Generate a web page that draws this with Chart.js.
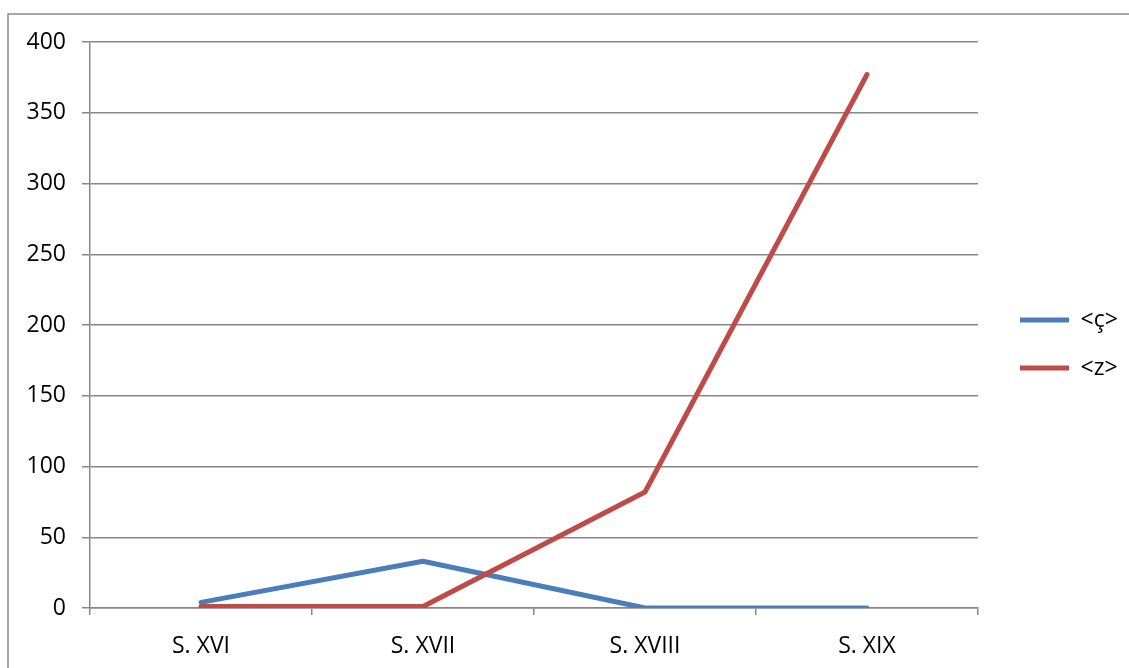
<!DOCTYPE html>
<html>
<head>
<meta charset="utf-8">
<script src="https://cdn.jsdelivr.net/npm/chart.js@4"></script>
<style>
  html, body { margin: 0; padding: 0; background: #ffffff; }
  canvas { display: block; }
</style>
</head>
<body>
<canvas id="c" width="1129" height="668"></canvas>
<script>
const categories = ["S. XVI", "S. XVII", "S. XVIII", "S. XIX"];
const seriesNames = ["<ç>", "<z>"];
const cedillaValues = [4, 33, 0, 0];
const zValues = [1, 1, 82, 377];
const yTicks = [0, 50, 100, 150, 200, 250, 300, 350, 400];

const GRID = '#878787';
const FONT = { family: 'Open Sans', size: 23 };

const outerBorder = {
  id: 'outerBorder',
  beforeDraw(chart) {
    const ctx = chart.ctx;
    ctx.save();
    ctx.strokeStyle = '#8a8a8a';
    ctx.lineWidth = 1.5;
    ctx.beginPath();
    ctx.moveTo(8, 668);
    ctx.lineTo(8, 14);
    ctx.lineTo(1129, 14);
    ctx.stroke();
    ctx.restore();
  }
};

new Chart(document.getElementById('c'), {
  type: 'line',
  data: {
    labels: categories,
    datasets: [
      {
        label: seriesNames[0],
        data: cedillaValues,
        borderColor: '#4a7ebb',
        backgroundColor: '#4a7ebb',
        borderWidth: 5,
        borderCapStyle: 'round',
        borderJoinStyle: 'round',
        pointRadius: 0,
        tension: 0,
        order: 1
      },
      {
        label: seriesNames[1],
        data: zValues,
        borderColor: '#be4b48',
        backgroundColor: '#be4b48',
        borderWidth: 5,
        borderCapStyle: 'round',
        borderJoinStyle: 'round',
        pointRadius: 0,
        tension: 0,
        order: 0
      }
    ]
  },
  options: {
    responsive: false,
    animation: false,
    devicePixelRatio: 1,
    layout: { padding: { top: 42, bottom: 0, left: 0, right: 9 } },
    plugins: {
      tooltip: { enabled: false },
      legend: {
        position: 'right',
        fullSize: false,
        maxWidth: 125,
        title: {
          display: true,
          text: '',
          font: { size: 38, lineHeight: 1 },
          padding: 0
        },
        labels: {
          usePointStyle: true,
          pointStyle: 'line',
          pointStyleWidth: 49,
          padding: 25,
          color: '#000000',
          font: FONT,
          sort: (a, b) => a.datasetIndex - b.datasetIndex
        }
      }
    },
    scales: {
      x: {
        type: 'category',
        offset: true,
        grid: {
          offset: true,
          drawOnChartArea: false,
          drawTicks: true,
          tickLength: 7,
          color: GRID,
          lineWidth: 1.5
        },
        border: { display: true, color: GRID, width: 1.5 },
        ticks: { color: '#000000', font: FONT, padding: 18, maxRotation: 0 },
        afterFit(s) { s.height = 60; }
      },
      y: {
        type: 'linear',
        position: 'left',
        min: 0,
        max: 400,
        afterBuildTicks(s) { s.ticks = yTicks.map(v => ({ value: v })); },
        grid: { color: GRID, lineWidth: 1.5, tickLength: 8 },
        border: { display: true, color: GRID, width: 1.5 },
        ticks: { color: '#000000', font: FONT, padding: 16 },
        afterFit(s) { s.width = 90; }
      },
      y2: {
        type: 'linear',
        position: 'right',
        display: true,
        grid: { display: false },
        border: { display: false },
        ticks: { display: false },
        afterFit(s) { s.width = 17; }
      }
    }
  },
  plugins: [outerBorder]
});
</script>
</body>
</html>
